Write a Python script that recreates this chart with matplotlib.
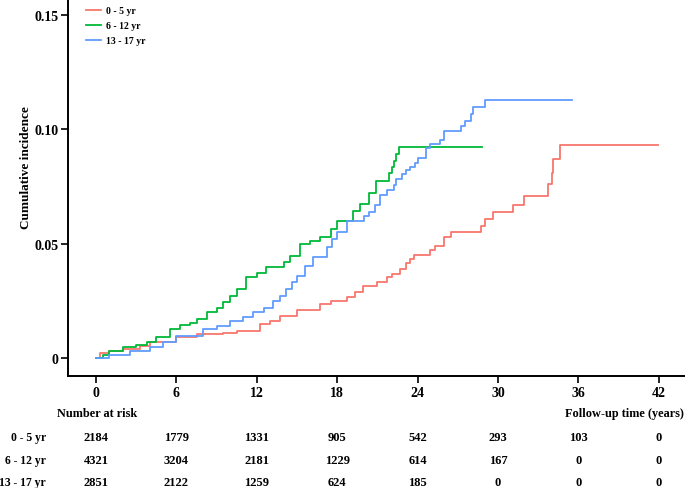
import matplotlib
matplotlib.use("Agg")
import matplotlib.pyplot as plt
import matplotlib.transforms as mtransforms

plt.rcParams['font.family'] = ['Liberation Serif', 'DejaVu Serif']
plt.rcParams['font.weight'] = 'bold'

# ---- data ----
groups = ["0 - 5 yr", "6 - 12 yr", "13 - 17 yr"]
colors = ["#F8766D", "#00BA38", "#619CFF"]

red_t = [0, 0.3, 1.0, 2.0, 3.3, 4.0, 6.0, 7.5, 9.5, 10.5, 12.2, 13.0, 13.7, 15.0, 16.7,
         17.5, 18.7, 19.3, 19.9, 21.0, 21.7, 22.1, 22.7, 23.1, 23.4, 23.7, 24.9, 25.3,
         26.0, 26.5, 28.7, 29.0, 29.6, 31.1, 31.9, 33.7, 34.0, 34.1, 34.6, 41.9]
red_v = [0, 0.002, 0.003, 0.004, 0.0054, 0.007, 0.009, 0.0105, 0.011, 0.012, 0.0149, 0.016,
         0.0185, 0.021, 0.0236, 0.025, 0.0265, 0.029, 0.0316, 0.033, 0.0353, 0.0367, 0.039,
         0.0416, 0.0433, 0.0451, 0.047, 0.049, 0.0528, 0.055, 0.0579, 0.0608, 0.0637, 0.067,
         0.071, 0.076, 0.081, 0.087, 0.0933, 0.0933]

green_t = [0, 0.5, 1.0, 2.0, 3.0, 3.8, 4.5, 5.5, 6.3, 7.0, 7.5, 8.3, 9.0, 9.5, 10.0, 10.5,
           11.2, 12.0, 12.7, 14.0, 14.5, 15.2, 16.0, 16.7, 17.5, 18.0, 19.2, 19.7, 20.4,
           20.9, 21.9, 22.1, 22.2, 22.4, 22.6, 28.8]
green_v = [0, 0.0015, 0.003, 0.0047, 0.0055, 0.007, 0.009, 0.0127, 0.0144, 0.0155, 0.017,
           0.020, 0.022, 0.0244, 0.027, 0.030, 0.0354, 0.037, 0.0397, 0.042, 0.0448, 0.0499,
           0.051, 0.0528, 0.0564, 0.060, 0.0644, 0.0674, 0.072, 0.0776, 0.081, 0.0834,
           0.0863, 0.0892, 0.0922, 0.0922]

blue_t = [0, 1.0, 2.5, 4.0, 5.0, 6.0, 8.0, 9.0, 10.0, 11.0, 11.7, 12.5, 13.2, 13.7, 14.2,
          14.6, 15.0, 15.6, 16.2, 17.2, 17.6, 18.0, 18.7, 20.0, 20.4, 20.8, 21.2, 21.7,
          22.2, 22.4, 22.8, 23.1, 23.4, 23.8, 24.0, 24.6, 24.9, 25.7, 26.0, 27.2, 27.5,
          28.0, 28.1, 29.0, 35.5]
blue_v = [0, 0.0015, 0.0032, 0.005, 0.007, 0.0098, 0.0127, 0.014, 0.0163, 0.018, 0.020,
          0.022, 0.025, 0.027, 0.030, 0.033, 0.036, 0.040, 0.044, 0.0484, 0.052, 0.055,
          0.060, 0.062, 0.0637, 0.067, 0.0713, 0.0735, 0.0757, 0.0783, 0.0805, 0.082,
          0.0834, 0.0853, 0.0874, 0.092, 0.0936, 0.0955, 0.0992, 0.1016, 0.1038, 0.1067,
          0.1097, 0.113, 0.113]

risk_times = [0, 6, 12, 18, 24, 30, 36, 42]
risk_0_5 = [2184, 1779, 1331, 905, 542, 293, 103, 0]
risk_6_12 = [4321, 3204, 2181, 1229, 614, 167, 0, 0]
risk_13_17 = [2851, 2122, 1259, 624, 185, 0, 0, 0]

yticks = [0, 0.05, 0.10, 0.15]
ytick_labels = ["0", "0.05", "0.10", "0.15"]

# ---- figure ----
fig = plt.figure(figsize=(6.85, 4.89), dpi=100)
ax = fig.add_axes([68/685, 1 - 377/489, 1 - 68/685, 377/489])

series = [(red_t, red_v), (green_t, green_v), (blue_t, blue_v)]
for (t, v), c, g in zip(series, colors, groups):
    ax.step(t, v, where='post', color=c, lw=1.3, label=g)

ax.set_xlim(-2.09, 43.95)
ax.set_ylim(-0.0079, 0.157)
ax.set_xticks(risk_times)
ax.set_xticklabels([str(x) for x in risk_times], fontsize=10, fontweight='bold')
ax.set_yticks(yticks)
ax.set_yticklabels(ytick_labels, fontsize=10, fontweight='bold')
ax.tick_params(direction='out', length=5, width=1.2, pad=2, colors='black')
for s in ['top', 'right']:
    ax.spines[s].set_visible(False)
for s in ['left', 'bottom']:
    ax.spines[s].set_linewidth(1.4)
ax.set_ylabel("Cumulative incidence", fontsize=9.5, fontweight='bold')
ax.yaxis.set_label_coords(-42/617, (377 - 168)/377)
ax.yaxis.label.set_va('center')

leg = ax.legend(loc='upper left', bbox_to_anchor=(0.015, 1.004), frameon=False,
                handlelength=1.5, handletextpad=0.6, labelspacing=0.62,
                prop={'weight': 'bold', 'size': 7})

# ---- risk table ----
trans = mtransforms.blended_transform_factory(ax.transData, fig.transFigure)
fig.text(57/685, 1 - 414/489, "Number at risk", fontsize=8.8, fontweight='bold',
         ha='left', va='center')
fig.text(684/685, 1 - 414/489, "Follow-up time (years)", fontsize=8.8, fontweight='bold',
         ha='right', va='center')
row_y = [438, 461, 483]
for g, row, yy in zip(groups, [risk_0_5, risk_6_12, risk_13_17], row_y):
    fig.text(46/685, 1 - yy/489, g, fontsize=8.4, fontweight='bold', ha='right', va='center')
    for tt, n in zip(risk_times, row):
        ax.text(tt, 1 - yy/489, str(n), transform=trans, fontsize=9, fontweight='bold',
                ha='center', va='center', clip_on=False)

fig.savefig("out.png", dpi=100)
